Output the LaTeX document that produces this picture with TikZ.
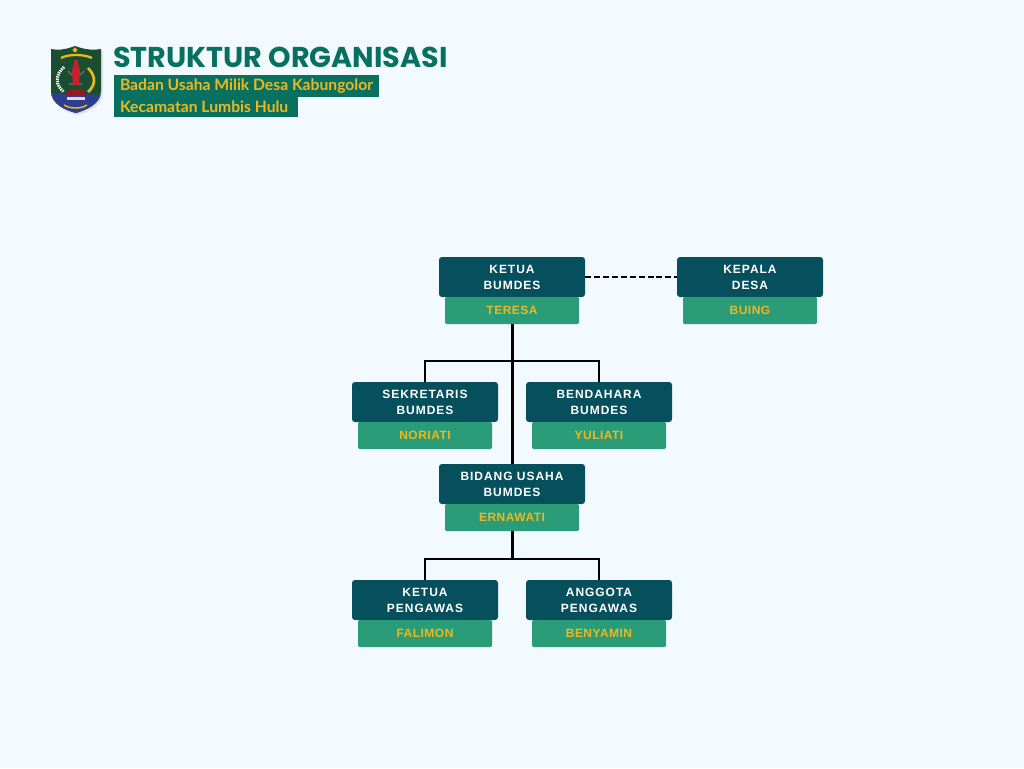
\documentclass[tikz,border=0pt]{standalone}
\usepackage{fontspec}
\usepackage{xcolor}
\usetikzlibrary{positioning,shapes.geometric,calc}
\setmainfont{Liberation Sans}
\newfontfamily\titlefont{Poppins}
\newfontfamily\subfont{Lato}
\newfontfamily\rolefont[LetterSpace=8]{Liberation Sans}
\newfontfamily\namefont[LetterSpace=4]{Liberation Sans}
\definecolor{pagebg}{HTML}{F2FAFF}
\definecolor{rolefill}{HTML}{06505E}
\definecolor{namefill}{HTML}{2A9D78}
\definecolor{gold}{HTML}{EDB81F}
\definecolor{headteal}{HTML}{08705F}
\definecolor{shieldgreen}{HTML}{1B4D30}
\definecolor{shieldblue}{HTML}{2B3F8C}
\definecolor{towerred}{HTML}{C8202E}
\tikzset{
  rolebox/.style ={rounded corners=2.2pt,fill=rolefill,text=white,minimum width=109.5pt,
                   minimum height=30pt,inner sep=0pt,outer sep=0pt,align=center,
                   font=\rolefont\bfseries\fontsize{9}{12}\selectfont},
  namebox/.style ={rounded corners=1pt,fill=namefill,text=gold,minimum width=100.5pt,
                   minimum height=20.25pt,inner sep=0pt,outer sep=0pt,align=center,
                   font=\namefont\bfseries\fontsize{9}{11}\selectfont},
  subbox/.style  ={fill=headteal,text=gold,anchor=north west,inner xsep=4.5pt,inner ysep=0pt,
                   outer sep=0pt,font=\subfont\bfseries\fontsize{11.75}{13}\selectfont},
  trunk/.style   ={line width=2.25pt,draw=black},
  branch/.style  ={line width=1.5pt,draw=black},
  liaison/.style ={line width=1.5pt,draw=black,dash pattern=on 4.5pt off 2.2pt}
}
\begin{document}
\begin{tikzpicture}[x=0.75pt,y=-0.75pt,node distance=0pt]
  \fill[pagebg] (0,0) rectangle (1024,768);
  \useasboundingbox (0,0) rectangle (1024,768);

  % emblem
  \fill[black!12] (53,51) .. controls (64,53) and (70,50) .. (76,48) .. controls (82,50) and (90,53) .. (103,51)
    -- (103,92) .. controls (103,106) and (88,112) .. (77,115) .. controls (66,112) and (53,106) .. (53,92) -- cycle;
  \begin{scope}
    \clip (51,49) .. controls (62,51) and (69,48) .. (75,46) .. controls (81,48) and (89,51) .. (101,49)
      -- (101,91) .. controls (101,104) and (86,110) .. (76,113) .. controls (65,110) and (51,104) .. (51,91) -- cycle;
    \fill[shieldgreen] (50,45) rectangle (102,114);
    \fill[shieldblue] (50,114) -- (50,94) .. controls (60,90) and (66,97) .. (76,94)
      .. controls (86,91) and (92,97) .. (102,94) -- (102,114) -- cycle;
  \end{scope}
  \node[star,star points=5,fill=gold,inner sep=0pt,minimum size=4pt] (star) at (75,50) {};
  \draw[gold,line width=1.7pt] (61,58) .. controls (68,54) and (84,54) .. (92,58);
  \draw[gold,line width=2pt] (88,68) .. controls (96,76) and (96,85) .. (88,92);
  \draw[white,line width=2.2pt,dash pattern=on 1pt off 0.7pt] (64,67) .. controls (55,75) and (55,85) .. (64,92);
  \draw[black!55,line width=0.8pt] (68,71) -- (72,75) (84,71) -- (80,75) (69,84) -- (82,84);
  \fill[towerred] (73,85) -- (72,72) .. controls (72,68) and (74,66) .. (74,62) .. controls (74,59) and (78,59) .. (78,62)
    .. controls (78,66) and (80,68) .. (80,72) -- (79,85) -- cycle;
  \fill[towerred!75!black] (66,95) .. controls (66,87) and (85,87) .. (86,95) -- cycle;
  \fill[white!80!towerred] (67,97) rectangle (85,100);
  \draw[gold,line width=1.1pt] (64,105) .. controls (70,109) and (81,109) .. (87,105);

  % heading
  \node[anchor=base west,inner sep=0pt,text=headteal,font=\titlefont\bfseries\fontsize{21.5}{24}\selectfont] (heading) at (113,67) {STRUKTUR ORGANISASI};
  \node[subbox,minimum height=16.5pt] (sub1) at (114,75) {\makebox[189.75pt][l]{Badan Usaha Milik Desa Kabungolor}};
  \node[subbox,minimum height=15pt] (sub2) at (114,97) {\makebox[129pt][l]{\raisebox{1.2pt}{Kecamatan Lumbis Hulu}}};

  % structure
  \node[rolebox] (ketua) at (512,277) {KETUA\\BUMDES};
  \node[namebox,below=of ketua] (teresa) {TERESA};
  \node[rolebox] (kepala) at (750,277) {KEPALA\\DESA};
  \node[namebox,below=of kepala] (buing) {BUING};
  \node[rolebox] (sekretaris) at (425,402) {SEKRETARIS\\BUMDES};
  \node[namebox,below=of sekretaris] (noriati) {NORIATI};
  \node[rolebox] (bendahara) at (599,402) {BENDAHARA\\BUMDES};
  \node[namebox,below=of bendahara] (yuliati) {YULIATI};
  \node[rolebox] (bidang) at (512,484) {BIDANG USAHA\\BUMDES};
  \node[namebox,below=of bidang] (ernawati) {ERNAWATI};
  \node[rolebox] (pengawas) at (425,600) {KETUA\\PENGAWAS};
  \node[namebox,below=of pengawas] (falimon) {FALIMON};
  \node[rolebox] (anggota) at (599,600) {ANGGOTA\\PENGAWAS};
  \node[namebox,below=of anggota] (benyamin) {BENYAMIN};

  \coordinate (split1) at (512,361);
  \coordinate (split2) at (512,559);
  \draw[liaison] (ketua.east) -- (kepala.west);
  \draw[branch] (sekretaris.north) |- (split1) -| (bendahara.north);
  \draw[trunk] (teresa.south) -- (bidang.north);
  \draw[branch] (pengawas.north) |- (split2) -| (anggota.north);
  \draw[trunk] (ernawati.south) -- (split2);
\end{tikzpicture}
\end{document}
